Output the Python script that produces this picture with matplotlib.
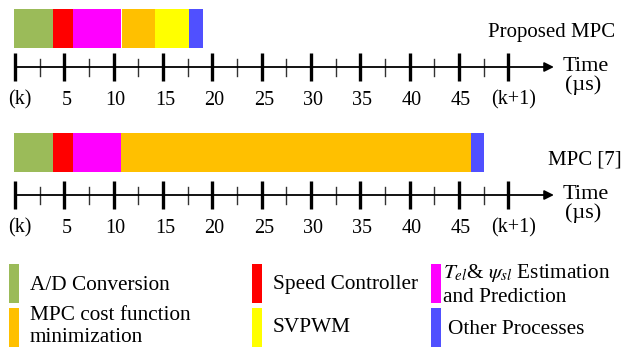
import matplotlib
matplotlib.use("Agg")
import matplotlib.pyplot as plt
import numpy as np
from matplotlib.patches import Rectangle

# processes (legend order) and their colours
processes = ["A/D Conversion", "Speed Controller", "Tel & psi Estimation",
             "MPC cost function minimization", "SVPWM", "Other Processes"]
colors = ["#9BBB59", "#FF0000", "#FF00FF", "#FFC000", "#FFFF00", "#5050FF"]

# durations in microseconds
proposed_us = [3.95, 2.05, 4.85, 3.35, 3.45, 1.35]
proposed_gap = [0, 0, 0, 0.15, 0, 0]   # thin white gap before the cost function block
mpc7_us = [4.0, 2.05, 4.8, 35.5, 0.0, 1.3]
mpc7_gap = [0, 0, 0, 0, 0, 0]

tick_values = list(range(0, 55, 5))
tick_labels = ["(k)"] + [str(v) for v in tick_values[1:-1]] + ["(k+1)"]

plt.rcParams["font.family"] = ["Liberation Serif", "DejaVu Serif"]
plt.rcParams["mathtext.fontset"] = "stix"

W, H = 624, 347
fig = plt.figure(figsize=(W / 100, H / 100), dpi=100)

# timeline axes: x in microseconds, y in pixel rows
px_per_us = 9.87
x0_px = 15
ax = fig.add_axes([0, 0, 1, 1])
ax.set_xlim(-x0_px / px_per_us, (W - x0_px) / px_per_us)
ax.set_ylim(H, 0)
ax.axis("off")

# legend axes in plain pixel coords
lax = fig.add_axes([0, 0, 1, 1])
lax.set_xlim(0, W)
lax.set_ylim(H, 0)
lax.axis("off")

TICK_FS = 14.5
NAME_FS = 15
TIME_FS = 16
LEG_FS = 15.3


def draw_row(durations, gaps, bar_top, bar_bot, axis_y, label_y, name, name_x, name_y):
    starts = np.cumsum(np.array(gaps) + np.r_[0, durations[:-1]]) - 0.15
    ax.barh((bar_top + bar_bot) / 2, durations, left=starts, height=bar_bot - bar_top,
            color=colors, edgecolor="none")
    # time axis with arrow
    ax.annotate("", xy=(54.6, axis_y), xytext=(0, axis_y),
                arrowprops=dict(arrowstyle="-|>", color="black", lw=1.3,
                                mutation_scale=14, shrinkA=0, shrinkB=0))
    for v in tick_values:
        ax.plot([v, v], [axis_y - 14, axis_y + 13.5], color="black", lw=2.4,
                solid_capstyle="butt")
    for v in tick_values[:-1]:
        ax.plot([v + 2.5, v + 2.5], [axis_y - 8.5, axis_y + 8.5], color="#333333", lw=1.0)
    for v, lab in zip(tick_values, tick_labels):
        dx = 0.5 if lab.startswith("(") else 0.2
        ax.text(v + dx, label_y, lab, ha="center", va="center", fontsize=TICK_FS)
    ax.text(55.5, axis_y - 1, "Time", ha="left", va="center", fontsize=TIME_FS)
    ax.text(55.7, axis_y + 18, "(\u00b5s)", ha="left", va="center", fontsize=TIME_FS)
    ax.text(name_x, name_y, name, ha="right", va="center", fontsize=NAME_FS)


draw_row(proposed_us, proposed_gap, 9, 48, 67, 100, "Proposed MPC", 60.8, 32)
draw_row(mpc7_us, mpc7_gap, 133, 172, 195, 228, "MPC [7]", 61.5, 160)

# legend
patch_x = [8.5, 252, 430.5]
rows = [(264, 303), (308, 350)]
for k in range(len(processes)):
    col, row = k % 3, k // 3
    top, bot = rows[row]
    lax.add_patch(Rectangle((patch_x[col], top), 10, bot - top, color=colors[k], lw=0))

lax.text(30, 285, "A/D Conversion", ha="left", va="center", fontsize=LEG_FS)
lax.text(273, 285, "Speed Controller", ha="left", va="center", fontsize=LEG_FS)
lax.text(443, 273, r"$T_{el}$& $\psi_{sl}$ Estimation", ha="left", va="center", fontsize=LEG_FS)
lax.text(443, 297, "and Prediction", ha="left", va="center", fontsize=LEG_FS)
lax.text(30, 315, "MPC cost function", ha="left", va="center", fontsize=LEG_FS)
lax.text(30, 338, "minimization", ha="left", va="center", fontsize=LEG_FS)
lax.text(273, 327, "SVPWM", ha="left", va="center", fontsize=LEG_FS)
lax.text(448, 329, "Other Processes", ha="left", va="center", fontsize=LEG_FS)

fig.savefig("out.png", dpi=100)
